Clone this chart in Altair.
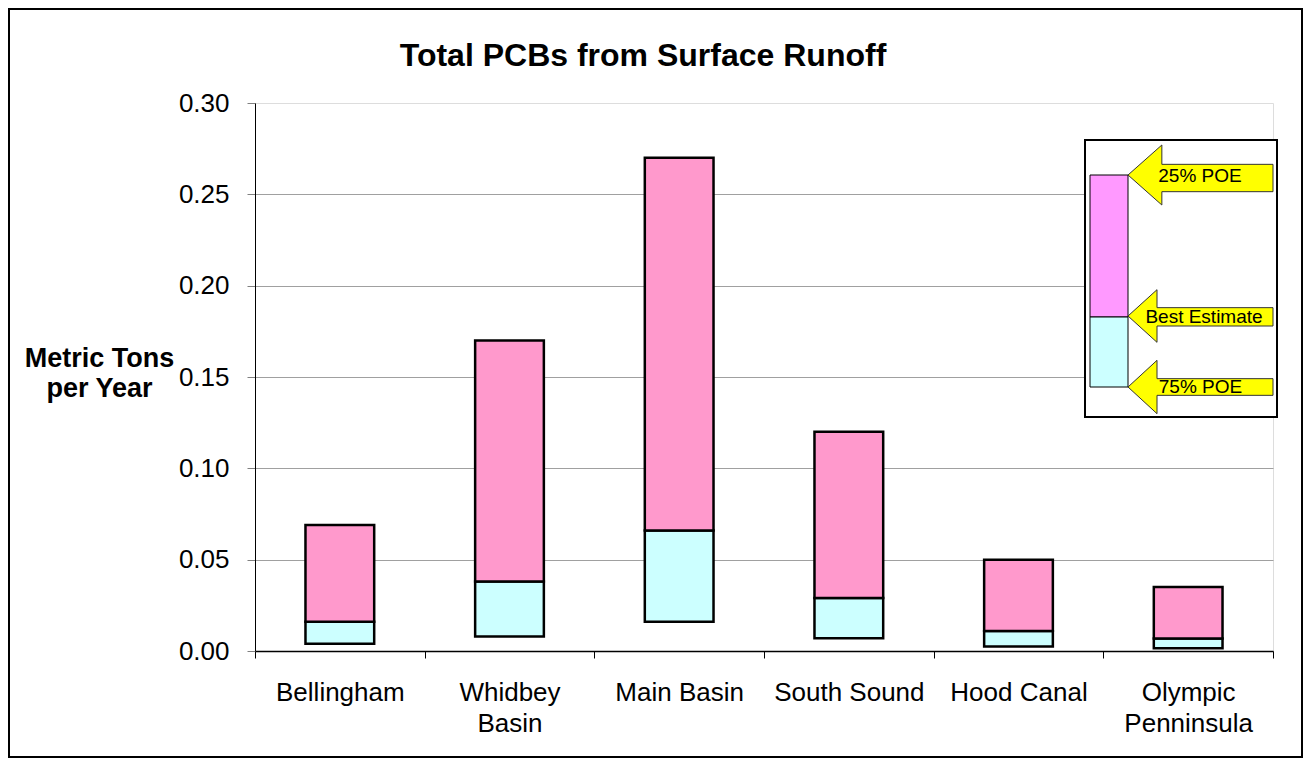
import altair as alt
import pandas as pd

# ---- data ----
regions = ["Bellingham", "Whidbey Basin", "Main Basin", "South Sound", "Hood Canal", "Olympic Penninsula"]
poe75 = [0.004, 0.008, 0.016, 0.007, 0.0025, 0.0015]   # 75% POE (low)
best = [0.016, 0.038, 0.066, 0.029, 0.011, 0.0068]      # best estimate
poe25 = [0.069, 0.170, 0.270, 0.120, 0.050, 0.035]      # 25% POE (high)
y_ticks = [0.0, 0.05, 0.10, 0.15, 0.20, 0.25, 0.30]

rows = []
for r, lo, b, hi in zip(regions, poe75, best, poe25):
    rows.append({"region": r, "segment": "75% POE to Best Estimate", "y": lo, "y2": b})
    rows.append({"region": r, "segment": "Best Estimate to 25% POE", "y": b, "y2": hi})
df = pd.DataFrame(rows)

FONT = "Liberation Sans"
PINK = "#FF99CC"
CYAN = "#CCFFFF"
LEG_PINK = "#FF99FF"
X0, Y0 = 255, 103  # page position of the plot origin


def px(x):
    return x - X0


def py(y):
    return y - Y0


one = pd.DataFrame({"k": [0]})

label_expr = ("datum.label == 'Whidbey Basin' ? ['Whidbey', 'Basin'] : "
              "datum.label == 'Olympic Penninsula' ? ['Olympic', 'Penninsula'] : datum.label")

bars = alt.Chart(df).mark_bar(stroke="black", strokeWidth=2.5, width=alt.RelativeBandSize(0.405)).encode(
    x=alt.X("region:N", sort=regions, title=None,
            scale=alt.Scale(paddingInner=0, paddingOuter=0),
            axis=alt.Axis(labelAngle=0, labelFont=FONT, labelFontSize=26, labelColor="black",
                          labelExpr=label_expr, labelLineHeight=31, labelPadding=21,
                          tickBand="extent", tickSize=7, tickColor="black", domainColor="black",
                          domainWidth=1.5, grid=False, labelBaseline="top")),
    y=alt.Y("y:Q", scale=alt.Scale(domain=[0, 0.30], nice=False, zero=True),
            axis=alt.Axis(values=y_ticks, format=".2f", labelFont=FONT, labelFontSize=26,
                          labelColor="black", labelPadding=18, tickSize=8, tickColor="#808080",
                          domainColor="black", domainWidth=1,
                          grid=True, gridColor="#a0a0a0", gridWidth=1.2,
                          gridOpacity={"condition": {"test": "datum.value >= 0.29", "value": 0}, "value": 1},
                          title=["Metric Tons", "per Year"], titleAngle=0, titleAlign="center",
                          titleBaseline="alphabetic", titleX=px(99), titleY=py(366),
                          titleFont=FONT, titleFontSize=27, titleFontWeight="bold",
                          titleLineHeight=30, titleColor="black")),
    y2="y2:Q",
    color=alt.Color("segment:N", legend=None,
                    scale=alt.Scale(domain=["75% POE to Best Estimate", "Best Estimate to 25% POE"],
                                    range=[CYAN, PINK])),
)

title = alt.Chart(one).mark_text(text="Total PCBs from Surface Runoff", font=FONT, fontSize=32,
                                 fontWeight="bold", align="center", baseline="alphabetic",
                                 color="black").encode(x=alt.value(px(643)), y=alt.value(py(66)))

border = alt.Chart(one).mark_rect(fill=None, stroke="black", strokeWidth=2).encode(
    x=alt.value(px(9)), x2=alt.value(px(1302)), y=alt.value(py(9)), y2=alt.value(py(757)))

leg_box = alt.Chart(one).mark_rect(fill="white", stroke="black", strokeWidth=2).encode(
    x=alt.value(px(1085)), x2=alt.value(px(1277)), y=alt.value(py(140)), y2=alt.value(py(417)))

leg_pink = alt.Chart(one).mark_rect(fill=LEG_PINK, stroke="black", strokeWidth=1).encode(
    x=alt.value(px(1090)), x2=alt.value(px(1128)), y=alt.value(py(175)), y2=alt.value(py(317)))
leg_cyan = alt.Chart(one).mark_rect(fill=CYAN, stroke="black", strokeWidth=1).encode(
    x=alt.value(px(1090)), x2=alt.value(px(1128)), y=alt.value(py(317)), y2=alt.value(py(387)))

A25 = "M -1 0 L -0.533 -0.414 L -0.533 -0.147 L 1 -0.147 L 1 0.23 L -0.533 0.23 L -0.533 0.414 Z"
ABE = "M -1 0 L -0.6 -0.363 L -0.6 -0.115 L 1 -0.115 L 1 0.138 L -0.6 0.138 L -0.6 0.363 Z"
A75 = "M -1 0 L -0.6 -0.368 L -0.6 -0.115 L 1 -0.115 L 1 0.115 L -0.6 0.115 L -0.6 0.368 Z"


def arrow(path, tip_y):
    return alt.Chart(one).mark_point(shape=path, filled=True, fill="#FFFF00", stroke="#333333",
                                     strokeWidth=1, size=145 * 145, opacity=1).encode(
        x=alt.value(px(1200.5)), y=alt.value(py(tip_y)))


def atext(t, x, y):
    return alt.Chart(one).mark_text(text=t, font=FONT, fontSize=19, align="center",
                                    baseline="alphabetic", color="black").encode(
        x=alt.value(px(x)), y=alt.value(py(y)))


chart = alt.layer(
    bars, border, title, leg_box, leg_pink, leg_cyan,
    arrow(A25, 175), arrow(ABE, 316), arrow(A75, 387),
    atext("25% POE", 1200, 182), atext("Best Estimate", 1204, 323), atext("75% POE", 1200.5, 393),
).properties(
    width=1018, height=548,
    padding={"left": 247, "top": 95, "right": 30, "bottom": 108},
    autosize=alt.AutoSizeParams(type="none"),
).configure_view(stroke=None).configure(font=FONT, background="white")

chart.save("out.html", embed_options={"renderer": "svg", "actions": False})
